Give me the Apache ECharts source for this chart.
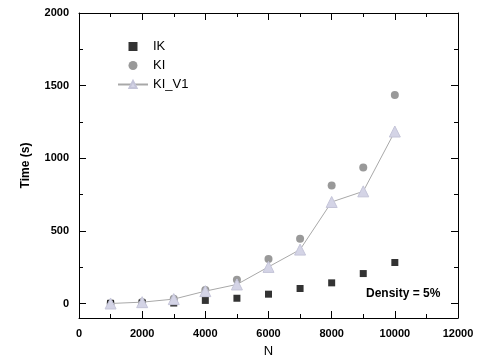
<!DOCTYPE html>
<html>
<head>
<meta charset="utf-8">
<script src="https://cdn.jsdelivr.net/npm/echarts@6/dist/echarts.min.js"></script>
<style>
  html, body { margin: 0; padding: 0; background: #fff; }
  #chart { width: 480px; height: 363px; }
</style>
</head>
<body>
<div id="chart"></div>
<script>
const nValues = [1000, 2000, 3000, 4000, 5000, 6000, 7000, 8000, 9000, 10000]
const ikTimes = [1, 3, 3, 21, 36, 64, 103, 142, 206, 282]
const kiTimes = [2, 10, 32, 92, 163, 307, 445, 813, 937, 1436]
const kiV1Times = [0, 9, 30, 85, 131, 252, 371, 699, 772, 1184]

const yMajorTicks = [0, 500, 1000, 1500, 2000]
const yMinorTicks = [250, 750, 1250, 1750]

const FONT = 'Liberation Sans, Arial, sans-serif'

const toPairs = ys => nValues.map((n, i) => [n, ys[i]])
const plain = v => String(v)

function yAxisDef(position, ticks, len, showLabel, showLine) {
  return {
    type: 'value',
    position,
    min: -100,
    max: 2000,
    splitLine: { show: false },
    axisLine: { show: showLine, onZero: false, lineStyle: { color: '#000', width: 1 } },
    axisTick: { inside: true, length: len, customValues: ticks, lineStyle: { color: '#000' } },
    axisLabel: showLabel
      ? { customValues: ticks, formatter: plain, color: '#000', fontWeight: 'bold', fontSize: 11, fontFamily: FONT, margin: 10 }
      : { show: false },
  }
}

function xAxisDef(position, showLabel) {
  return {
    type: 'value',
    position,
    min: 0,
    max: 12000,
    interval: 2000,
    splitLine: { show: false },
    axisLine: { onZero: false, lineStyle: { color: '#000', width: 1 } },
    axisTick: { inside: true, length: 7, lineStyle: { color: '#000' } },
    minorTick: { show: true, splitNumber: 2, length: 4, lineStyle: { color: '#000' } },
    minorSplitLine: { show: false },
    axisLabel: showLabel
      ? { formatter: plain, color: '#000', fontWeight: 'bold', fontSize: 11, fontFamily: FONT, margin: 10 }
      : { show: false },
  }
}

const chart = echarts.init(document.getElementById('chart'))

const xBottom = xAxisDef('bottom', true)
xBottom.name = 'N'
xBottom.nameLocation = 'middle'
xBottom.nameGap = 27
xBottom.nameTextStyle = { color: '#000', fontSize: 13, fontFamily: FONT }

const yLeft = yAxisDef('left', yMajorTicks, 7, true, true)
yLeft.name = 'Time (s)'
yLeft.nameLocation = 'middle'
yLeft.nameGap = 47
yLeft.nameTextStyle = { color: '#000', fontSize: 12, fontWeight: 'bold', fontFamily: FONT }

chart.setOption({
  animation: false,
  grid: { left: 79, right: 22, top: 13, bottom: 45 },
  xAxis: [xBottom, xAxisDef('top', false)],
  yAxis: [
    yLeft,
    yAxisDef('left', yMinorTicks, 4, false, false),
    yAxisDef('right', yMajorTicks, 7, false, true),
    yAxisDef('right', yMinorTicks, 4, false, false),
  ],
  legend: {
    orient: 'vertical',
    left: 117,
    top: 40,
    padding: 0,
    itemWidth: 30,
    itemHeight: 9,
    itemGap: 6,
    symbolKeepAspect: true,
    textStyle: { color: '#000', fontSize: 13, fontFamily: FONT },
    data: [
      { name: 'IK', icon: 'path://M0,0L10,0L10,10L0,10Z' },
      { name: 'KI', icon: 'circle' },
      { name: 'KI_V1' },
    ],
  },
  graphic: [{
    type: 'text',
    left: 366,
    top: 288,
    style: { text: 'Density = 5%', fill: '#000', font: 'bold 12px ' + FONT },
  }],
  series: [
    {
      name: 'IK',
      type: 'scatter',
      data: toPairs(ikTimes),
      symbol: 'rect',
      symbolSize: 7,
      itemStyle: { color: '#000' },
      z: 3,
    },
    {
      name: 'KI',
      type: 'scatter',
      data: toPairs(kiTimes),
      symbol: 'circle',
      symbolSize: 8,
      itemStyle: { color: '#808080' },
      z: 2,
    },
    {
      name: 'KI_V1',
      type: 'line',
      data: toPairs(kiV1Times),
      symbol: 'triangle',
      symbolSize: 11,
      showAllSymbol: true,
      lineStyle: { color: '#a8a8a8', width: 1 },
      itemStyle: { color: '#d4d4e6', borderColor: '#c4c4d8', borderWidth: 1 },
      z: 4,
    },
  ],
})
</script>
</body>
</html>
